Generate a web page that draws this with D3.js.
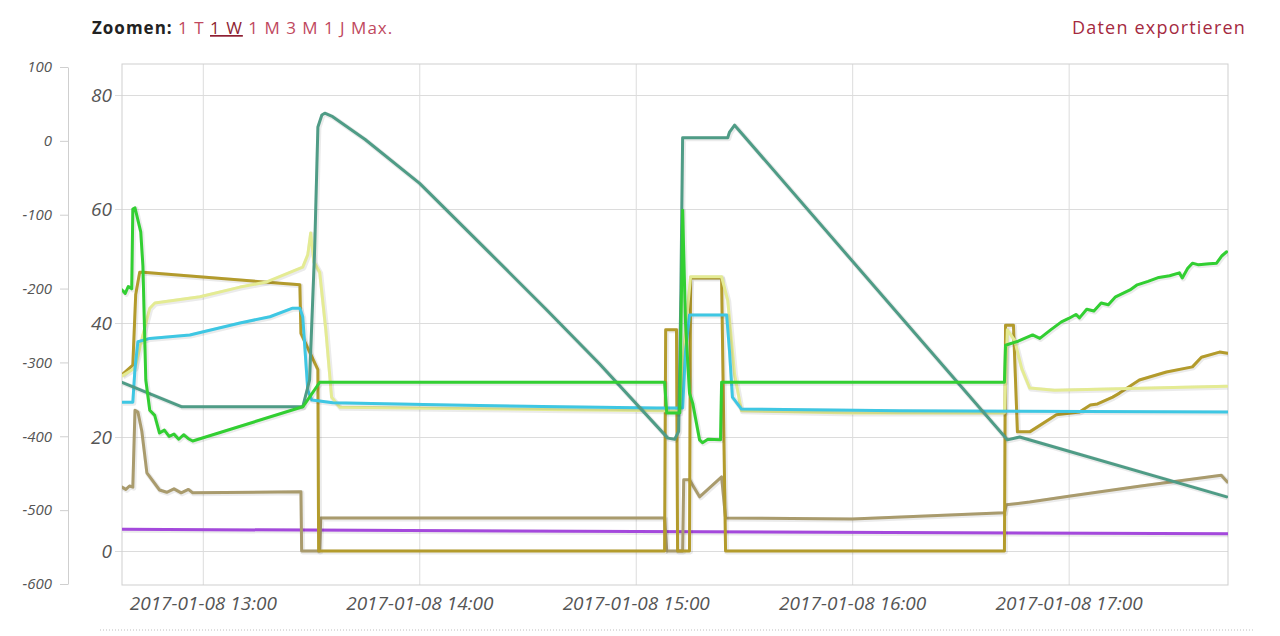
<!DOCTYPE html>
<html>
<head>
<meta charset="utf-8">
<script src="https://cdn.jsdelivr.net/npm/d3@7"></script>
<style>
  html, body { margin: 0; padding: 0; background: #fff; }
  svg { display: block; }
</style>
</head>
<body>
<svg id="chart" width="1280" height="636"></svg>
<script>
// ---------- DATA ----------
const xTickLabels = ["2017-01-08 13:00", "2017-01-08 14:00", "2017-01-08 15:00", "2017-01-08 16:00", "2017-01-08 17:00"];
const xTickTimes = ["13:00:00", "14:00:00", "15:00:00", "16:00:00", "17:00:00"];
const innerTicks = [0, 20, 40, 60, 80];
const outerTicks = [-600, -500, -400, -300, -200, -100, 0, 100];
const zoomLabel = "Zoomen:";
const zoomLinks = ["1 T", "1 W", "1 M", "3 M", "1 J", "Max."];
const exportLabel = "Daten exportieren";

const seriesGreen = [
  ["12:37:36",45.8],["12:38:30",45.2],["12:39:20",46.4],["12:40:18",46],["12:40:36",60],["12:41:12",60.2],
  ["12:42:48",56],["12:43:24",50],["12:44:12",30],["12:45:18",24.7],["12:46:40",23.8],["12:48:00",20.7],
  ["12:49:20",21.2],["12:50:40",20.1],["12:52:00",20.5],["12:53:20",19.6],["12:54:40",20.4],["12:56:00",19.7],
  ["12:57:12",19.3],["13:27:42",25.3],["13:29:36",27],["13:32:24",29.6],["15:08:00",29.6],["15:08:36",24.2],
  ["15:12:12",24.2],["15:13:00",59.8],["15:13:48",40],["15:14:54",27.7],["15:15:48",25.9],["15:17:42",19.5],
  ["15:18:30",19],["15:20:00",19.6],["15:23:30",19.5],["15:23:48",29.6],["16:42:12",29.6],["16:42:30",36.1],
  ["16:46:00",36.8],["16:50:00",37.9],["16:52:00",37.3],["16:55:00",38.8],["16:58:00",40.2],["17:00:00",40.8],
  ["17:02:00",41.5],["17:03:00",40.9],["17:05:00",42.4],["17:07:00",42.1],["17:09:00",43.5],["17:11:00",43.2],
  ["17:13:00",44.6],["17:15:00",45.2],["17:17:00",45.8],["17:19:00",46.7],["17:22:00",47.3],["17:25:00",48.0],
  ["17:28:00",48.3],["17:30:40",48.8],["17:31:30",47.9],["17:33:00",49.6],["17:34:18",50.5],["17:36:00",50.2],
  ["17:39:00",50.4],["17:41:00",50.5],["17:42:30",51.8],["17:43:48",52.5]
];
const seriesTeal = [
  ["12:37:36",29.6],["12:54:12",25.3],["13:27:42",25.3],["13:29:36",30],["13:31:00",52.8],["13:31:54",74.4],
  ["13:33:00",76.5],["13:33:48",76.8],["13:36:00",76.2],["13:45:00",72.2],["14:00:06",64.5],["14:19:30",52.3],
  ["14:35:00",42.5],["14:50:00",32.8],["15:08:54",19.8],["15:10:48",19.6],["15:11:54",21],["15:12:30",45],
  ["15:13:00",72.5],["15:25:30",72.5],["15:26:00",73.5],["15:27:24",74.7],["16:43:00",19.5],["16:46:24",20],
  ["17:43:48",9.5]
];
const seriesYellow = [
  ["12:37:36",30.7],["12:41:12",32.1],["12:43:24",37.9],["12:45:18",42.6],["12:46:42",43.5],["12:59:12",44.6],
  ["13:10:18",46.3],["13:17:42",47.2],["13:27:42",49.8],["13:29:06",52],["13:29:54",55.8],["13:30:48",50.7],
  ["13:32:24",48.9],["13:34:06",38.8],["13:35:42",27],["13:38:00",25.2],["14:10:00",25.0],["14:40:00",24.8],
  ["15:08:00",24.6],["15:12:00",24.6],["15:14:00",40],["15:15:12",48.1],["15:23:48",48.1],["15:25:30",44],
  ["15:27:24",31],["15:29:18",24.6],["16:00:00",24.2],["16:42:12",24.2],["16:43:00",38.8],["16:45:00",37],
  ["16:47:00",32],["16:49:12",28.6],["16:56:00",28.2],["17:43:48",28.9]
];
const seriesCyan = [
  ["12:37:36",26.1],["12:40:36",26.1],["12:41:12",32],["12:42:00",36.7],["12:45:18",37.3],["12:56:24",37.9],
  ["13:10:18",40],["13:18:36",41.1],["13:24:54",42.6],["13:26:54",42.6],["13:27:42",41.1],["13:29:06",28.2],
  ["13:30:12",26.5],["13:36:00",26],["14:08:24",25.6],["14:38:54",25.3],["15:05:48",25.1],["15:13:00",25.1],
  ["15:13:48",35],["15:14:54",41.4],["15:25:12",41.4],["15:26:00",35],["15:26:48",27],["15:29:18",24.9],
  ["16:13:06",24.6],["17:44:00",24.4]
];
const seriesOlive = [
  ["12:37:36",30.9],["12:40:36",32.6],["12:41:24",45],["12:42:30",48.9],["12:43:24",48.9],["13:26:54",46.7],
  ["13:27:12",38.2],["13:31:54",31.8],["13:32:06",0],["15:08:00",0],["15:08:18",38.8],["15:11:18",38.8],
  ["15:11:36",0],["15:14:54",0],["15:15:12",47.9],["15:23:48",47.9],["15:24:54",0],["16:42:12",0],
  ["16:42:30",39.6],["16:44:42",39.6],["16:45:48",20.9],["16:49:12",20.9],["16:56:36",23.9],["17:03:00",24.4],
  ["17:06:00",25.6],["17:08:00",25.8],["17:12:12",27],["17:14:06",27.7],["17:19:36",30],["17:27:06",31.4],
  ["17:34:18",32.3],["17:36:48",34],["17:41:48",34.9],["17:44:00",34.7]
];
const seriesTan = [
  ["12:37:36",11.2],["12:38:40",10.8],["12:39:40",11.4],["12:40:36",11.2],["12:41:12",24.7],["12:42:00",24.4],
  ["12:43:06",21],["12:44:30",13.7],["12:48:00",10.7],["12:50:00",10.3],["12:52:00",10.9],["12:54:00",10.2],
  ["12:56:00",10.8],["12:57:12",10.2],["13:27:12",10.4],["13:27:24",0],["13:32:24",0],["13:32:42",5.8],
  ["15:08:00",5.8],["15:08:36",0],["15:13:00",0],["15:13:18",12.5],["15:14:54",12.5],["15:17:42",9.5],
  ["15:23:48",13],["15:24:54",5.8],["16:00:00",5.6],["16:42:12",6.7],["16:42:42",8.1],["16:49:12",8.6],
  ["17:00:00",9.6],["17:20:00",11.4],["17:42:18",13.3],["17:44:00",12.1]
];
// purple series is plotted on the outer (left) axis
const seriesPurple = [["12:37:36",-526],["17:44:10",-532]];

const seriesDefs = [
  {name: "purple", data: seriesPurple, color: "#a449dc", axis: "outer"},
  {name: "tan",    data: seriesTan,    color: "#a99b6d", axis: "inner"},
  {name: "olive",  data: seriesOlive,  color: "#b39b2c", axis: "inner"},
  {name: "yellow", data: seriesYellow, color: "#e4eb93", axis: "inner"},
  {name: "cyan",   data: seriesCyan,   color: "#3ec7e3", axis: "inner"},
  {name: "teal",   data: seriesTeal,   color: "#4f9c86", axis: "inner"},
  {name: "green",  data: seriesGreen,  color: "#32cf32", axis: "inner"}
];

// ---------- LAYOUT ----------
const plot = {left: 122, right: 1228, top: 64, bottom: 585};
const parse = d3.timeParse("%H:%M:%S");
const svg = d3.select("#chart");

const x = d3.scaleTime().domain([parse("12:37:36"), parse("17:44:10")]).range([plot.left, plot.right]);
const yInner = d3.scaleLinear().domain([0, 80]).range([551, 95]);
const yOuter = d3.scaleLinear().domain([-600, 100]).range([584, 67]);

// header
const hdr = svg.append("text").attr("x", 92).attr("y", 34)
  .style("font-family", "'Open Sans', sans-serif").style("font-size", "17px").style("letter-spacing", "1px");
hdr.append("tspan").text(zoomLabel).attr("fill", "#222").style("font-weight", "bold");
zoomLinks.forEach((t, i) => {
  hdr.append("tspan").text(" ");
  hdr.append("tspan").text(t)
    .attr("fill", i === 1 ? "#8e1f33" : "#c0485e")
    .style("text-decoration", i === 1 ? "underline" : "none");
});
svg.append("text").attr("x", 1246).attr("y", 34).attr("text-anchor", "end")
  .style("font-family", "'Open Sans', sans-serif").style("font-size", "18px").style("letter-spacing", "1.2px")
  .attr("fill", "#a52a3f").text(exportLabel);

// grid: horizontal (inner axis)
const gInner = svg.append("g").attr("transform", `translate(${plot.right},0)`)
  .call(d3.axisLeft(yInner).tickValues(innerTicks).tickSize(plot.right - 115).tickPadding(3));
gInner.select(".domain").remove();
gInner.selectAll("line").attr("stroke", "#dcdcdc");
gInner.selectAll("text").style("font-family", "'Open Sans', sans-serif").style("font-size", "19px")
  .style("font-style", "italic").attr("fill", "#555");

// grid: vertical (time)
const xTicks = xTickTimes.map(parse);
const gX = svg.append("g").attr("transform", `translate(0,${plot.bottom})`)
  .call(d3.axisBottom(x).tickValues(xTicks).tickSize(-(plot.bottom - plot.top)).tickPadding(12)
    .tickFormat((d, i) => xTickLabels[i]));
gX.select(".domain").remove();
gX.selectAll("line").attr("stroke", "#dcdcdc");
gX.selectAll("text").style("font-family", "'Open Sans', sans-serif").style("font-size", "19px")
  .style("font-style", "italic").attr("fill", "#555");

// plot border
svg.append("rect").attr("x", plot.left).attr("y", plot.top)
  .attr("width", plot.right - plot.left).attr("height", plot.bottom - plot.top)
  .attr("fill", "none").attr("stroke", "#cfcfcf");

// outer (left) axis
const gOuter = svg.append("g").attr("transform", "translate(68,0)")
  .call(d3.axisLeft(yOuter).tickValues(outerTicks).tickSize(8).tickSizeOuter(0).tickPadding(8)
    .tickFormat(d => String(d)));
gOuter.selectAll("line, path").attr("stroke", "#cfcfcf");
gOuter.selectAll("text").style("font-family", "'Open Sans', sans-serif").style("font-size", "15px")
  .style("font-style", "italic").attr("fill", "#555");

// clip
svg.append("defs").append("clipPath").attr("id", "clip").append("rect")
  .attr("x", plot.left).attr("y", plot.top - 2)
  .attr("width", plot.right - plot.left).attr("height", plot.bottom - plot.top + 2);

const gLines = svg.append("g").attr("clip-path", "url(#clip)");
seriesDefs.forEach(s => {
  const yScale = s.axis === "outer" ? yOuter : yInner;
  const line = d3.line().x(d => x(parse(d[0]))).y(d => yScale(d[1]));
  gLines.append("path").datum(s.data).attr("d", line)
    .attr("fill", "none").attr("stroke", "rgba(0,0,0,0.08)").attr("stroke-width", 5)
    .attr("stroke-linejoin", "round").attr("transform", "translate(1,1)");
  gLines.append("path").datum(s.data).attr("d", line)
    .attr("fill", "none").attr("stroke", s.color).attr("stroke-width", 3)
    .attr("stroke-linejoin", "round").attr("stroke-linecap", "round");
});

// dotted separator
svg.append("line").attr("x1", 100).attr("x2", 1254).attr("y1", 630).attr("y2", 630)
  .attr("stroke", "#bdbdbd").attr("stroke-width", 1).attr("stroke-dasharray", "1,2");
</script>
</body>
</html>
